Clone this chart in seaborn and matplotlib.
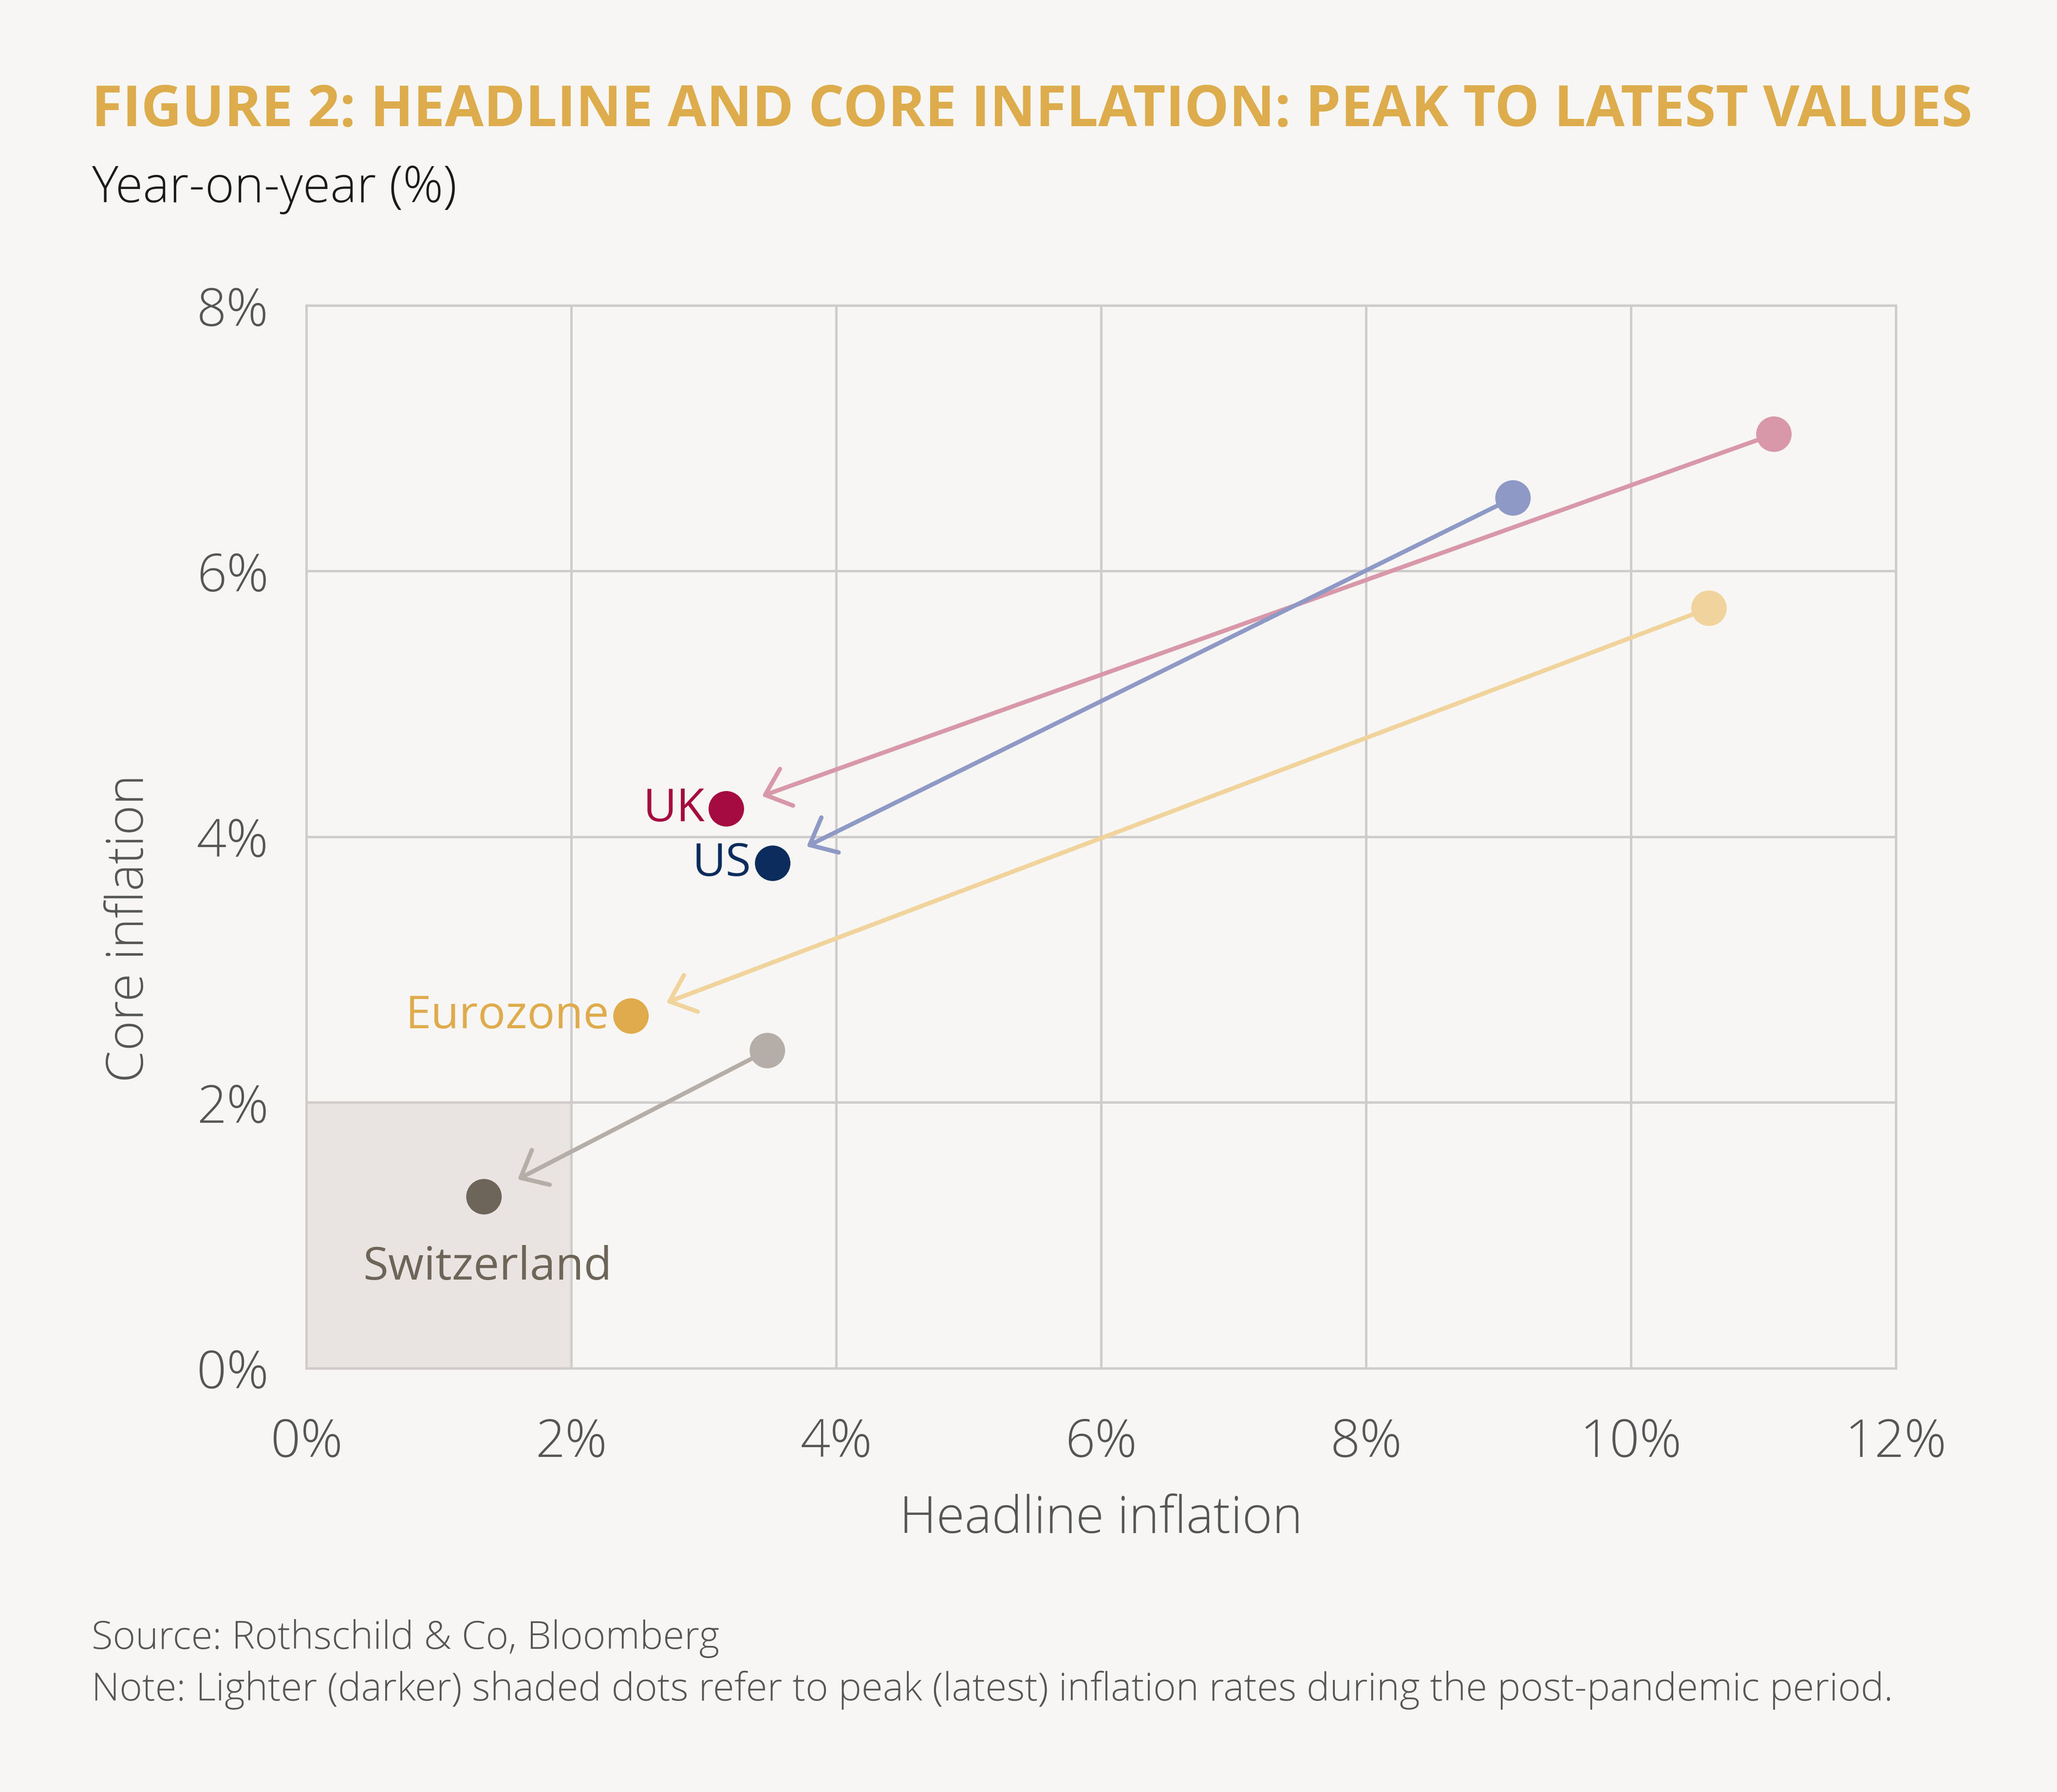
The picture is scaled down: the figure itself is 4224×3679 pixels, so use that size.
import matplotlib
matplotlib.use("Agg")
import matplotlib.pyplot as plt
from matplotlib.patches import Rectangle
import seaborn as sns
import pandas as pd

# ---- data ----
countries = ["UK", "US", "Eurozone", "Switzerland"]
peak_headline = [11.08, 9.11, 10.59, 3.48]
peak_core = [7.03, 6.55, 5.72, 2.39]
latest_headline = [3.17, 3.52, 2.45, 1.34]
latest_core = [4.21, 3.80, 2.65, 1.29]
x_ticks = [0, 2, 4, 6, 8, 10, 12]
y_ticks = [0, 2, 4, 6, 8]

peak_colors = ["#D898A9", "#8F99C6", "#F1D39C", "#B5AEA8"]
latest_colors = ["#A50B40", "#0B2C5C", "#DFAB4C", "#6D6558"]

BG = "#F7F6F4"
sns.set_theme(style="white")
plt.rcParams["font.family"] = ["Open Sans", "DejaVu Sans"]
LIGHT = dict(family=["Open Sans", "DejaVu Sans"], fontweight="light")

fig = plt.figure(figsize=(10.56, 9.2), dpi=400, facecolor=BG)
ax = fig.add_axes([0.149, 0.2365, 0.7726, 0.5929])
ax.set_facecolor(BG)

# shaded target zone
ax.add_patch(Rectangle((0, 0), 2, 2, facecolor="#E9E3E2", edgecolor="none", zorder=0))

# arrows from peak to latest
for i in range(len(countries)):
    ax.annotate("", xy=(latest_headline[i], latest_core[i]),
                xytext=(peak_headline[i], peak_core[i]),
                arrowprops=dict(arrowstyle="->,head_length=0.42,head_width=0.36",
                                color=peak_colors[i], lw=1.6,
                                shrinkA=0, shrinkB=14, mutation_scale=20),
                zorder=2)

df_peak = pd.DataFrame({"x": peak_headline, "y": peak_core, "c": countries})
df_latest = pd.DataFrame({"x": latest_headline, "y": latest_core, "c": countries})
sns.scatterplot(data=df_peak, x="x", y="y", hue="c", palette=peak_colors,
                s=172, linewidth=0, legend=False, ax=ax, zorder=3)
sns.scatterplot(data=df_latest, x="x", y="y", hue="c", palette=latest_colors,
                s=172, linewidth=0, legend=False, ax=ax, zorder=3)

# labels
for i, name in enumerate(countries):
    if name == "Switzerland":
        ax.annotate(name, (latest_headline[i], latest_core[i]), xytext=(1.2, -26),
                    textcoords="offset points", ha="center", va="center",
                    fontsize=17, color=latest_colors[i], zorder=4)
    else:
        ax.annotate(name, (latest_headline[i], latest_core[i]), xytext=(-8, 0),
                    textcoords="offset points", ha="right", va="center",
                    fontsize=17, color=latest_colors[i], zorder=4)

ax.set_xlim(0, 12)
ax.set_ylim(0, 8)
ax.set_xticks(x_ticks)
ax.set_yticks(y_ticks)
ax.set_xticklabels([f"{t}%" for t in x_ticks], fontsize=19.3, color="#555555", **LIGHT)
ax.set_yticklabels([f"{t}%" for t in y_ticks], fontsize=19.3, color="#555555", **LIGHT)
ax.tick_params(axis="x", length=0, pad=18)
ax.tick_params(axis="y", length=0, pad=14)
ax.grid(True, color="#CFCCCA", lw=0.9, zorder=1)
ax.set_axisbelow(True)
for sp in ax.spines.values():
    sp.set_color("#CFCCCA")
    sp.set_linewidth(0.9)

ax.set_xlabel("Headline inflation", fontsize=19, color="#555555", labelpad=9, **LIGHT)
ax.set_ylabel("Core inflation", fontsize=19, color="#555555", **LIGHT)
ax.yaxis.set_label_coords(-0.095, 0.414)

fig.text(0.0446, 0.938, "FIGURE 2: HEADLINE AND CORE INFLATION: PEAK TO LATEST VALUES",
         fontsize=20.8, fontweight="bold", color="#DDAC4C", ha="left", va="center",
         family=["Open Sans", "DejaVu Sans"])
fig.text(0.0446, 0.8945, "Year-on-year (%)", fontsize=18.5, color="#1A1A1A",
         ha="left", va="center", **LIGHT)
fig.text(0.0446, 0.086, "Source: Rothschild & Co, Bloomberg", fontsize=14.35,
         color="#555555", ha="left", va="center", **LIGHT)
fig.text(0.0446, 0.057,
         "Note: Lighter (darker) shaded dots refer to peak (latest) inflation rates during the post-pandemic period.",
         fontsize=14.35, color="#555555", ha="left", va="center", **LIGHT)

fig.savefig("out.png", dpi=400, facecolor=BG)
